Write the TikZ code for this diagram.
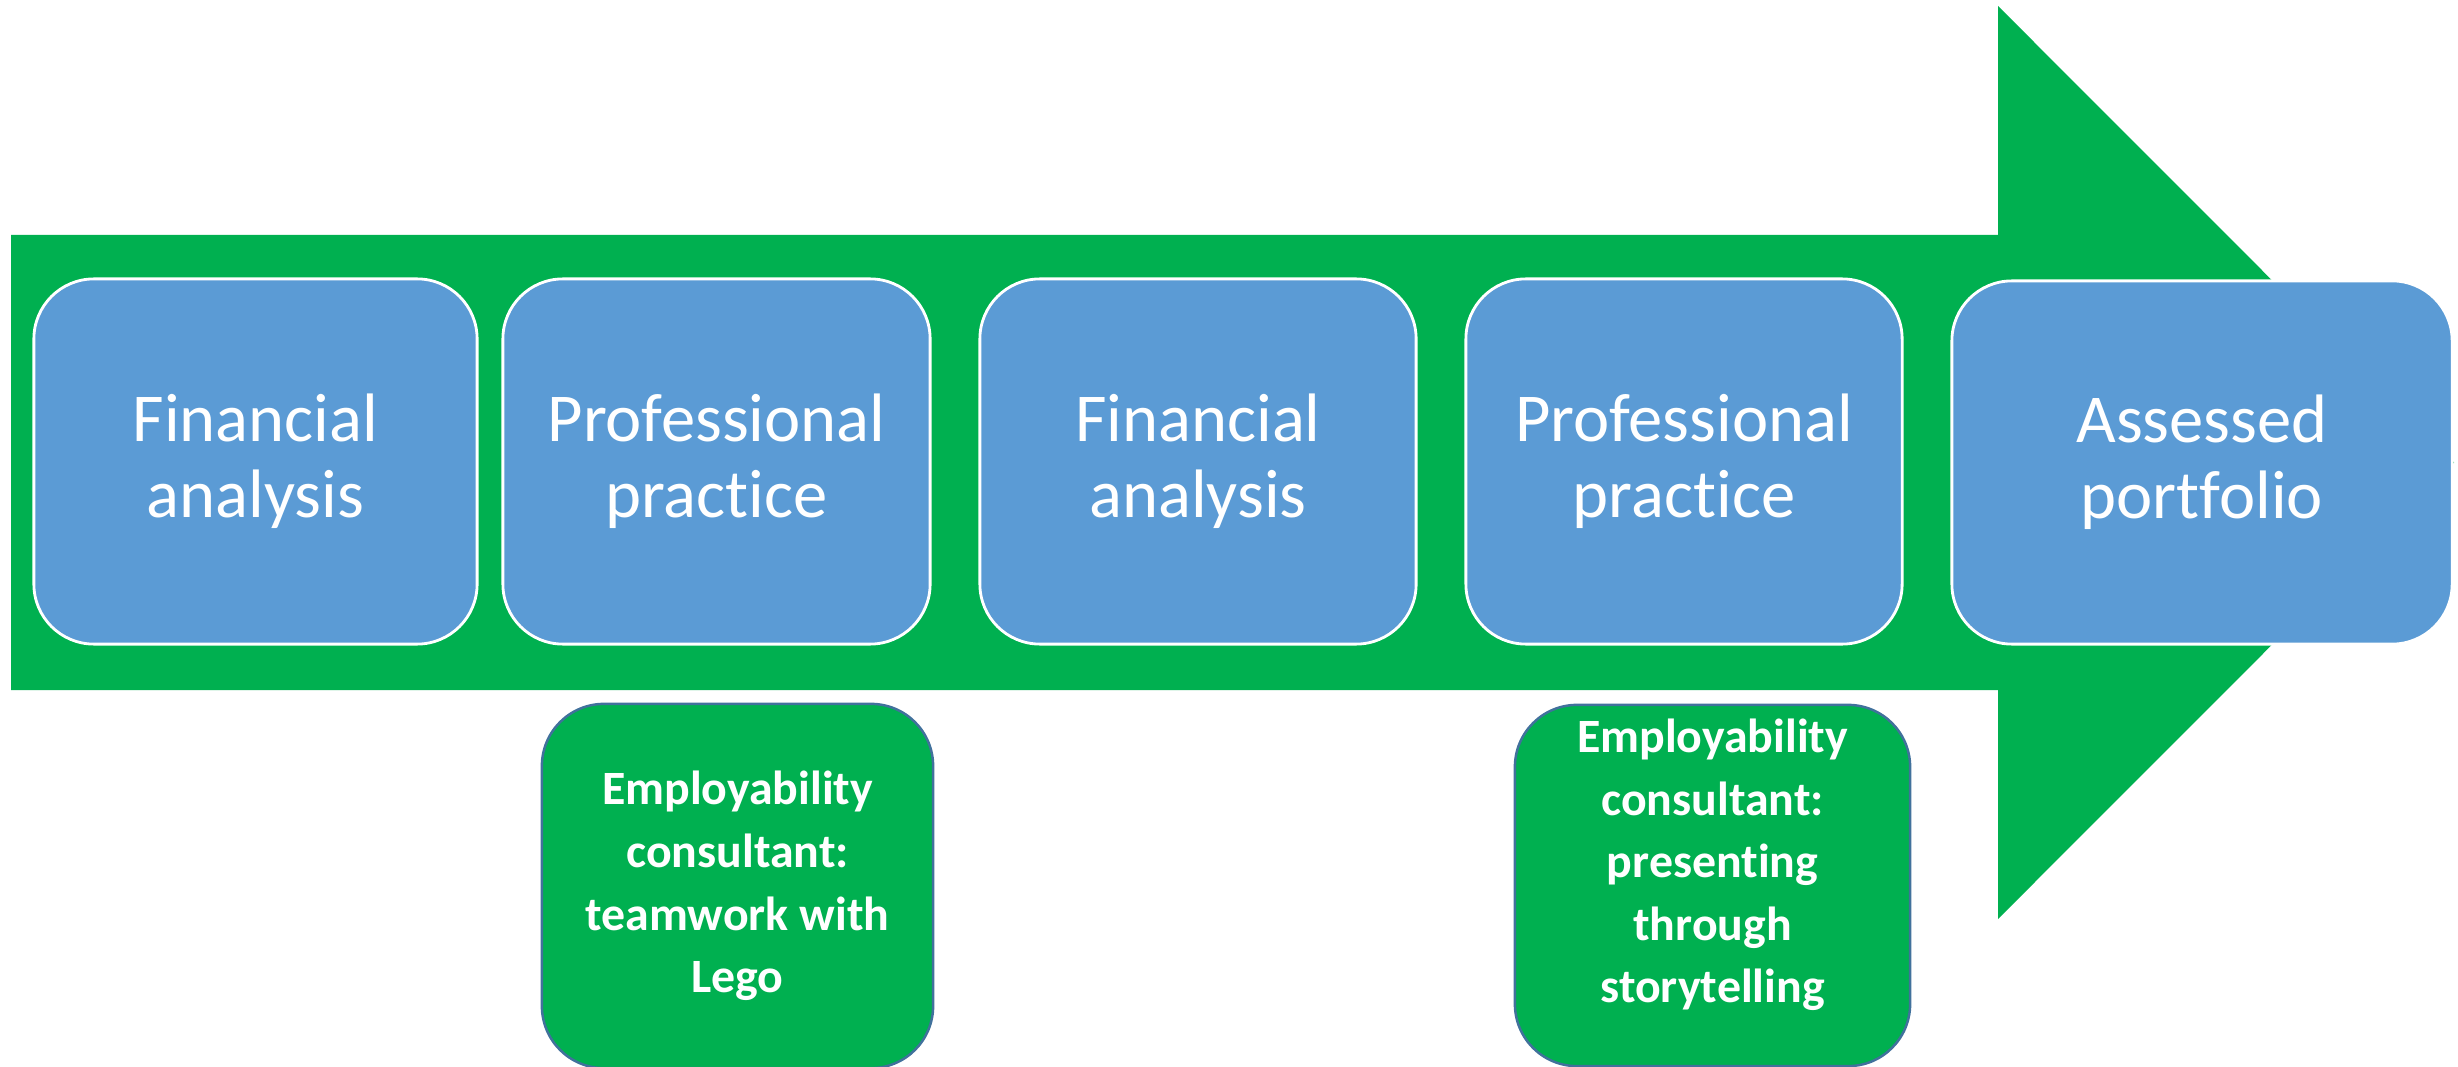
\documentclass[tikz,border=0pt]{standalone}
\usepackage{fontspec}
\setmainfont{Carlito}[Ligatures={NoCommon,NoRare,NoContextual}]
\definecolor{arrowgreen}{HTML}{00B050}
\definecolor{boxblue}{HTML}{5B9BD5}
\definecolor{edgeblue}{HTML}{41719C}
\begin{document}
\begin{tikzpicture}[x=0.01cm,y=-0.01cm,
  bluebox/.style={draw=white, line width=0.8pt, fill=boxblue, rounded corners=0.6cm,
    text=white, align=center, font=\fontsize{19.5}{21.6}\selectfont,
    inner sep=0pt, minimum height=3.65cm},
  greenbox/.style={draw=edgeblue, line width=0.7pt, fill=arrowgreen, rounded corners=0.62cm,
    inner sep=0pt, minimum height=3.62cm, text=white, align=center,
    font=\bfseries\fontsize{13.6}{17.8}\selectfont},
  greentext/.style={text=white, align=center, font=\bfseries\fontsize{13.6}{17.8}\selectfont, inner sep=0pt}]
\useasboundingbox (0,0) rectangle (2458,1067);
% big arrow
\fill[arrowgreen] (11,235) -- (1998,235) -- (1998,6) -- (2454,462.5) -- (1998,919) -- (1998,690) -- (11,690) -- cycle;
% blue steps
\node[bluebox, minimum width=4.43cm] (s1) at (255.5,461.5) {Financial\\analysis};
\node[bluebox, minimum width=4.27cm] (s2) at (716.5,461.5) {Professional\\practice};
\node[bluebox, minimum width=4.36cm] (s3) at (1198,461.5) {Financial\\analysis};
\node[bluebox, minimum width=4.36cm] (s4) at (1684,461.5) {Professional\\practice};
\node[bluebox, minimum width=5.00cm, minimum height=3.63cm] (s5) at (2202,462.5) {Assessed\\portfolio};
% green consultant boxes
\node[greenbox, minimum width=3.91cm, minimum height=3.64cm] (g1) at (737.5,886) {Employability\\consultant:\\teamwork with\\Lego};
\node[greenbox, minimum width=3.95cm, minimum height=3.61cm] (g2) at (1712.5,885.5) {};
\node[greentext] (g2t) at (1712.5,865) {Employability\\consultant:\\presenting\\through\\storytelling};
\end{tikzpicture}
\end{document}
